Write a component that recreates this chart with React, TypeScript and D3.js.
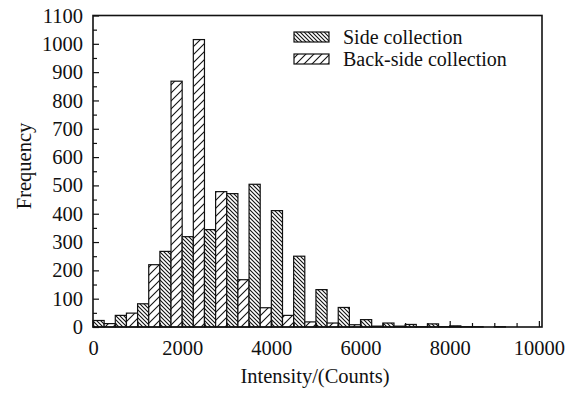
import React, { useEffect, useRef } from 'react';
import * as d3 from 'd3';

// bins of 500 counts, starting at 0
const binStarts = [0, 500, 1000, 1500, 2000, 2500, 3000, 3500, 4000, 4500, 5000, 5500, 6000, 6500, 7000, 7500, 8000, 8500, 9000, 9500];
const binWidth = 500;
const sideCollection = [23, 41, 82, 267, 319, 344, 471, 504, 411, 250, 132, 69, 26, 14, 9, 11, 4, 1, 1, 0];
const backSideCollection = [12, 49, 220, 868, 1015, 478, 167, 68, 41, 18, 14, 8, 3, 3, 1, 1, 1, 0, 0, 0];

const xMajorTicks = [0, 2000, 4000, 6000, 8000, 10000];
const yMajorTicks = [0, 100, 200, 300, 400, 500, 600, 700, 800, 900, 1000, 1100];

const W = 568;
const H = 393;
const FONT = '"Liberation Serif", "Times New Roman", serif';

const App = () => {
  const svgRef = useRef(null);

  useEffect(() => {
    const svg = d3.select(svgRef.current);
    svg.selectAll('*').remove();

    const left = 93, right = 542, top = 15.5, bottom = 327;

    const x = d3.scaleLinear().domain([0, 10070]).range([left, right]);
    const y = d3.scaleLinear().domain([0, 1100]).range([bottom, top]);

    const defs = svg.append('defs');
    // dense "\\\" hatch for side collection
    const pSide = defs.append('pattern')
      .attr('id', 'hatch-side')
      .attr('patternUnits', 'userSpaceOnUse')
      .attr('width', 4).attr('height', 4);
    pSide.append('rect').attr('width', 4).attr('height', 4).attr('fill', '#fff');
    pSide.append('path')
      .attr('d', 'M-1,-1 L5,5 M-1,3 L1,5 M3,-1 L5,1')
      .attr('stroke', '#111').attr('stroke-width', 1.1);

    // sparse "///" hatch for back-side collection
    const pBack = defs.append('pattern')
      .attr('id', 'hatch-back')
      .attr('patternUnits', 'userSpaceOnUse')
      .attr('width', 8).attr('height', 8);
    pBack.append('rect').attr('width', 8).attr('height', 8).attr('fill', '#fff');
    pBack.append('path')
      .attr('d', 'M-1,9 L9,-1 M-1,1 L1,-1 M7,9 L9,7')
      .attr('stroke', '#111').attr('stroke-width', 1.1);

    const bars = svg.append('g');
    binStarts.forEach((b, i) => {
      const x0 = x(b), xm = x(b + binWidth / 2), x1 = x(b + binWidth);
      if (sideCollection[i] > 0) {
        bars.append('rect')
          .attr('x', x0).attr('y', y(sideCollection[i]))
          .attr('width', xm - x0).attr('height', bottom - y(sideCollection[i]))
          .attr('fill', 'url(#hatch-side)')
          .attr('stroke', '#111').attr('stroke-width', 1.2);
      }
      if (backSideCollection[i] > 0) {
        bars.append('rect')
          .attr('x', xm).attr('y', y(backSideCollection[i]))
          .attr('width', x1 - xm).attr('height', bottom - y(backSideCollection[i]))
          .attr('fill', 'url(#hatch-back)')
          .attr('stroke', '#111').attr('stroke-width', 1.2);
      }
    });

    // axes, ticks pointing inward
    const xMinor = d3.range(500, 10001, 500).filter((v) => !xMajorTicks.includes(v));
    const yMinor = d3.range(50, 1100, 100);

    const xg = svg.append('g').attr('transform', `translate(0,${bottom})`);
    xg.call(d3.axisBottom(x).tickValues(xMajorTicks).tickSizeInner(-6).tickSizeOuter(0).tickPadding(13).tickFormat(d3.format('d')));
    xg.append('g').call(d3.axisBottom(x).tickValues(xMinor).tickSizeInner(-4).tickSizeOuter(0).tickFormat(() => ''));

    const yg = svg.append('g').attr('transform', `translate(${left},0)`);
    yg.call(d3.axisLeft(y).tickValues(yMajorTicks).tickSizeInner(-6).tickSizeOuter(0).tickPadding(10).tickFormat(d3.format('d')));
    yg.append('g').call(d3.axisLeft(y).tickValues(yMinor).tickSizeInner(-4).tickSizeOuter(0).tickFormat(() => ''));

    svg.selectAll('.domain').remove();
    svg.selectAll('.tick line').attr('stroke', '#111').attr('stroke-width', 1.2);
    svg.selectAll('.tick text')
      .attr('fill', '#111')
      .style('font-family', FONT)
      .style('font-size', '20.5px');

    // frame
    svg.append('rect')
      .attr('x', left).attr('y', top)
      .attr('width', right - left).attr('height', bottom - top)
      .attr('fill', 'none').attr('stroke', '#111').attr('stroke-width', 1.6);

    // axis titles
    svg.append('text')
      .attr('x', 315).attr('y', 383)
      .attr('text-anchor', 'middle')
      .style('font-family', FONT).style('font-size', '20.5px').attr('fill', '#111')
      .text('Intensity/(Counts)');

    svg.append('text')
      .attr('transform', 'translate(31,166) rotate(-90)')
      .attr('text-anchor', 'middle')
      .style('font-family', FONT).style('font-size', '20.5px').attr('fill', '#111')
      .text('Frequency');

    // legend
    const legend = [
      { label: 'Side collection', fill: 'url(#hatch-side)', y: 32 },
      { label: 'Back-side collection', fill: 'url(#hatch-back)', y: 54 },
    ];
    const lg = svg.append('g');
    legend.forEach((l) => {
      lg.append('rect')
        .attr('x', 294).attr('y', l.y)
        .attr('width', 35).attr('height', 10)
        .attr('fill', l.fill).attr('stroke', '#111').attr('stroke-width', 1.2);
      lg.append('text')
        .attr('x', 343).attr('y', l.y + 12)
        .style('font-family', FONT).style('font-size', '20px').attr('fill', '#111')
        .text(l.label);
    });
  }, []);

  return (
    <svg
      ref={svgRef}
      width={W}
      height={H}
      style={{ position: 'absolute', left: 0, top: 0, background: '#fff' }}
    />
  );
};

export default App;
